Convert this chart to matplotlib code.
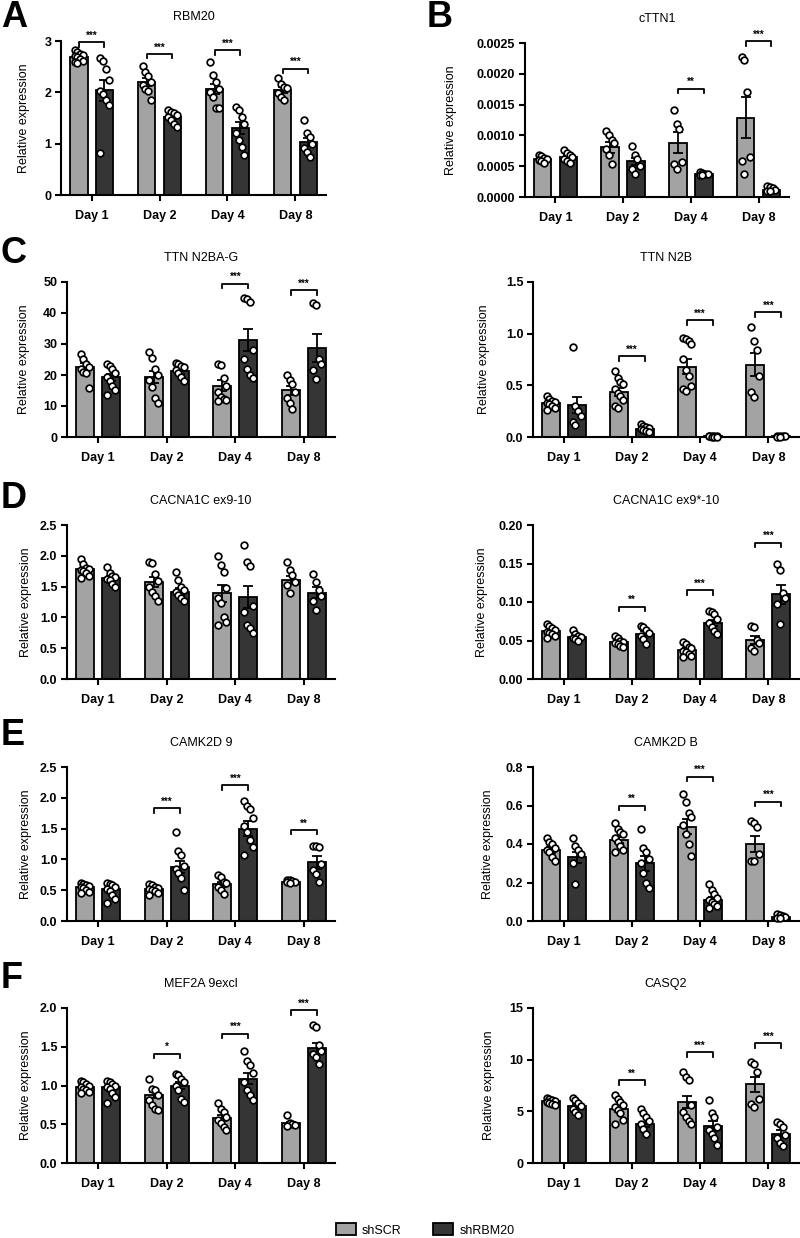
import matplotlib
matplotlib.use("Agg")
import matplotlib.pyplot as plt
from matplotlib.patches import Patch
import numpy as np

plt.rcParams["font.family"] = ["Liberation Sans", "DejaVu Sans"]

days = ["Day 1", "Day 2", "Day 4", "Day 8"]
groups = ["shSCR", "shRBM20"]

# RBM20
rbm20_scr = [2.68, 2.20, 2.07, 2.05]
rbm20_scr_sem = [0.03, 0.08, 0.10, 0.06]
rbm20_scr_pts = [[2.82, 2.78, 2.75, 2.72, 2.70, 2.68, 2.65, 2.62, 2.60, 2.58],
                 [2.51, 2.40, 2.31, 2.20, 2.14, 2.07, 2.03, 1.85],
                 [2.59, 2.33, 2.20, 2.07, 2.01, 1.90, 1.70, 1.70],
                 [2.27, 2.17, 2.10, 2.09, 1.98, 1.91, 1.85]]
rbm20_rbm = [2.04, 1.52, 1.30, 1.04]
rbm20_rbm_sem = [0.20, 0.04, 0.12, 0.08]
rbm20_rbm_pts = [[2.66, 2.62, 2.46, 2.25, 2.03, 1.96, 1.85, 1.75, 0.82],
                 [1.65, 1.62, 1.59, 1.56, 1.52, 1.47, 1.39, 1.33],
                 [1.72, 1.65, 1.52, 1.38, 1.20, 1.07, 0.94, 0.78],
                 [1.46, 1.20, 1.13, 1.00, 0.91, 0.84, 0.75]]
rbm20_sig = ["***", "***", "***", "***"]

# cTTN1
cttn1_scr = [0.00061, 0.00081, 0.00088, 0.00129]
cttn1_scr_sem = [0.00002, 0.00009, 0.00017, 0.00034]
cttn1_scr_pts = [[0.00068, 0.00066, 0.00064, 0.00062, 0.00060, 0.00058, 0.00056],
                 [0.00107, 0.00101, 0.00093, 0.00087, 0.00078, 0.00068, 0.00054],
                 [0.00142, 0.00119, 0.00111, 0.00057, 0.00053, 0.00046],
                 [0.00227, 0.00222, 0.00170, 0.00065, 0.00058, 0.00038]]
cttn1_rbm = [0.00065, 0.00058, 0.00037, 0.00012]
cttn1_rbm_sem = [0.00003, 0.00006, 0.00001, 0.00002]
cttn1_rbm_pts = [[0.00077, 0.00072, 0.00068, 0.00065, 0.00062, 0.00058, 0.00055],
                 [0.00082, 0.00068, 0.00061, 0.00051, 0.00046, 0.00038],
                 [0.00040, 0.00039, 0.00038, 0.00037, 0.00036, 0.00035],
                 [0.00018, 0.00017, 0.00015, 0.00012, 0.00010, 0.00009]]
cttn1_sig = [None, None, "**", "***"]

# TTN N2BA-G
n2bag_scr = [22.5, 19.3, 16.5, 15.0]
n2bag_scr_sem = [1.3, 2.0, 1.8, 1.5]
n2bag_scr_pts = [[26.9, 25.3, 23.7, 22.6, 22.0, 21.0, 20.5, 15.8],
                 [27.5, 25.5, 22.0, 20.0, 18.5, 16.0, 12.5, 11.0],
                 [23.7, 23.1, 19.0, 16.5, 14.5, 13.0, 12.4, 12.0, 11.5],
                 [20.0, 18.5, 17.0, 14.5, 12.5, 11.0, 9.0]]
n2bag_rbm = [19.2, 21.3, 31.2, 28.7]
n2bag_rbm_sem = [1.2, 0.9, 3.5, 4.5]
n2bag_rbm_pts = [[23.5, 23.0, 22.0, 20.5, 19.5, 18.0, 16.5, 15.0, 13.5],
                 [24.0, 23.5, 23.0, 22.5, 21.5, 20.5, 19.5, 18.0],
                 [44.8, 44.5, 43.5, 28.0, 25.0, 22.0, 20.0, 19.0],
                 [43.3, 42.5, 25.0, 23.6, 21.5, 18.8]]
n2bag_sig = [None, None, "***", "***"]

# TTN N2B
n2b_scr = [0.33, 0.435, 0.68, 0.70]
n2b_scr_sem = [0.02, 0.04, 0.07, 0.11]
n2b_scr_pts = [[0.40, 0.37, 0.35, 0.34, 0.33, 0.32, 0.30, 0.28, 0.26],
               [0.64, 0.57, 0.53, 0.51, 0.46, 0.43, 0.40, 0.36, 0.30, 0.28],
               [0.96, 0.95, 0.93, 0.90, 0.75, 0.65, 0.59, 0.49, 0.46, 0.45],
               [1.06, 0.93, 0.84, 0.59, 0.44, 0.39]]
n2b_rbm = [0.31, 0.08, 0.005, 0.005]
n2b_rbm_sem = [0.08, 0.01, 0.001, 0.001]
n2b_rbm_pts = [[0.87, 0.30, 0.25, 0.20, 0.15, 0.12],
               [0.13, 0.11, 0.10, 0.09, 0.08, 0.07, 0.06, 0.05],
               [0.008, 0.007, 0.006, 0.005, 0.005, 0.004, 0.004, 0.003],
               [0.008, 0.007, 0.006, 0.005, 0.004, 0.003]]
n2b_sig = [None, "***", "***", "***"]

# CACNA1C ex9-10
ex9_scr = [1.78, 1.57, 1.39, 1.61]
ex9_scr_sem = [0.03, 0.08, 0.14, 0.06]
ex9_scr_pts = [[1.95, 1.86, 1.81, 1.79, 1.77, 1.75, 1.72, 1.68, 1.64],
               [1.90, 1.88, 1.70, 1.59, 1.50, 1.42, 1.34, 1.26],
               [2.00, 1.85, 1.74, 1.47, 1.31, 1.23, 1.00, 0.93, 0.87],
               [1.90, 1.77, 1.69, 1.58, 1.53, 1.39]]
ex9_rbm = [1.64, 1.42, 1.33, 1.40]
ex9_rbm_sem = [0.04, 0.05, 0.18, 0.09]
ex9_rbm_pts = [[1.82, 1.72, 1.68, 1.66, 1.63, 1.61, 1.55, 1.50],
               [1.74, 1.61, 1.50, 1.45, 1.42, 1.37, 1.31, 1.26],
               [2.18, 1.90, 1.84, 1.18, 1.09, 0.88, 0.82, 0.75],
               [1.71, 1.58, 1.45, 1.34, 1.26, 1.12]]
ex9_sig = [None, None, None, None]

# CACNA1C ex9*-10
ex9s_scr = [0.062, 0.048, 0.038, 0.051]
ex9s_scr_sem = [0.002, 0.002, 0.002, 0.005]
ex9s_scr_pts = [[0.071, 0.069, 0.066, 0.063, 0.061, 0.060, 0.058, 0.056, 0.053],
                [0.056, 0.053, 0.050, 0.048, 0.047, 0.045, 0.043, 0.041],
                [0.048, 0.045, 0.042, 0.040, 0.037, 0.035, 0.032, 0.030, 0.028],
                [0.069, 0.067, 0.051, 0.047, 0.040, 0.036]]
ex9s_rbm = [0.055, 0.059, 0.073, 0.110]
ex9s_rbm_sem = [0.002, 0.003, 0.004, 0.012]
ex9s_rbm_pts = [[0.063, 0.058, 0.056, 0.055, 0.053, 0.052, 0.050],
                [0.069, 0.067, 0.063, 0.060, 0.056, 0.052, 0.046],
                [0.088, 0.087, 0.085, 0.078, 0.073, 0.068, 0.062, 0.058],
                [0.150, 0.142, 0.112, 0.105, 0.098, 0.072]]
ex9s_sig = [None, "**", "***", "***"]

# CAMK2D 9
camk9_scr = [0.55, 0.52, 0.60, 0.64]
camk9_scr_sem = [0.02, 0.02, 0.04, 0.01]
camk9_scr_pts = [[0.62, 0.60, 0.58, 0.57, 0.55, 0.53, 0.50, 0.47, 0.45],
                 [0.60, 0.58, 0.56, 0.54, 0.52, 0.50, 0.48, 0.45, 0.42],
                 [0.74, 0.72, 0.64, 0.61, 0.55, 0.50, 0.44],
                 [0.67, 0.66, 0.65, 0.64, 0.63, 0.62]]
camk9_rbm = [0.52, 0.88, 1.50, 0.95]
camk9_rbm_sem = [0.04, 0.10, 0.12, 0.10]
camk9_rbm_pts = [[0.62, 0.60, 0.58, 0.55, 0.52, 0.48, 0.42, 0.35, 0.30],
                 [1.44, 1.13, 1.07, 0.89, 0.85, 0.78, 0.69, 0.51],
                 [1.94, 1.87, 1.82, 1.68, 1.55, 1.45, 1.31, 1.20, 1.07],
                 [1.22, 1.21, 1.20, 0.93, 0.82, 0.77, 0.63]]
camk9_sig = [None, "***", "***", "**"]

# CAMK2D B
camkb_scr = [0.37, 0.42, 0.49, 0.40]
camkb_scr_sem = [0.015, 0.015, 0.04, 0.04]
camkb_scr_pts = [[0.43, 0.41, 0.40, 0.38, 0.37, 0.36, 0.33, 0.31],
                 [0.51, 0.48, 0.46, 0.45, 0.43, 0.41, 0.39, 0.37, 0.36],
                 [0.66, 0.62, 0.56, 0.54, 0.50, 0.45, 0.40, 0.34],
                 [0.52, 0.51, 0.49, 0.35, 0.31, 0.31]]
camkb_rbm = [0.33, 0.30, 0.11, 0.02]
camkb_rbm_sem = [0.03, 0.04, 0.015, 0.003]
camkb_rbm_pts = [[0.43, 0.39, 0.37, 0.35, 0.30, 0.19],
                 [0.48, 0.38, 0.36, 0.32, 0.30, 0.25, 0.20, 0.17],
                 [0.19, 0.16, 0.14, 0.12, 0.11, 0.10, 0.09, 0.08, 0.07],
                 [0.035, 0.030, 0.025, 0.020, 0.018, 0.015]]
camkb_sig = [None, "**", "***", "***"]

# MEF2A 9excl
mef2a_scr = [0.98, 0.875, 0.58, 0.51]
mef2a_scr_sem = [0.02, 0.04, 0.04, 0.02]
mef2a_scr_pts = [[1.06, 1.04, 1.02, 1.00, 0.98, 0.96, 0.94, 0.92, 0.90],
                 [1.09, 0.96, 0.94, 0.88, 0.81, 0.75, 0.70, 0.68],
                 [0.77, 0.70, 0.66, 0.59, 0.55, 0.51, 0.47, 0.42],
                 [0.62, 0.52, 0.50, 0.49, 0.48]]
mef2a_rbm = [0.98, 1.00, 1.09, 1.48]
mef2a_rbm_sem = [0.03, 0.04, 0.07, 0.07]
mef2a_rbm_pts = [[1.06, 1.04, 1.02, 1.00, 0.98, 0.95, 0.90, 0.85, 0.78],
                 [1.15, 1.13, 1.09, 1.04, 1.00, 0.94, 0.83, 0.79],
                 [1.44, 1.31, 1.26, 1.16, 1.05, 0.94, 0.88, 0.81],
                 [1.78, 1.76, 1.52, 1.44, 1.41, 1.37, 1.28]]
mef2a_sig = [None, "*", "***", "***"]

# CASQ2
casq2_scr = [6.0, 5.25, 5.9, 7.6]
casq2_scr_sem = [0.08, 0.30, 0.55, 0.70]
casq2_scr_pts = [[6.3, 6.2, 6.1, 6.0, 5.9, 5.8, 5.7, 5.6],
                 [6.6, 6.2, 5.9, 5.6, 5.4, 5.1, 4.8, 4.2, 3.8],
                 [8.8, 8.3, 8.0, 5.6, 4.9, 4.5, 4.1, 3.8],
                 [9.8, 9.6, 8.8, 6.2, 5.7, 5.4]]
casq2_rbm = [5.5, 3.75, 3.55, 2.85]
casq2_rbm_sem = [0.20, 0.25, 0.50, 0.30]
casq2_rbm_pts = [[6.3, 6.1, 5.8, 5.5, 5.2, 4.9, 4.6],
                 [5.2, 4.8, 4.5, 4.1, 3.8, 3.3, 2.8],
                 [6.1, 4.8, 4.5, 3.5, 3.2, 2.8, 2.4, 1.7],
                 [4.0, 3.8, 3.5, 2.7, 2.4, 1.9, 1.6]]
casq2_sig = [None, "**", "***", "***"]

W, H = 800, 1238
LIGHT = "#a3a3a3"
DARK = "#353535"

fig = plt.figure(figsize=(W / 100, H / 100), dpi=100)


def add_ax(x0, x1, y0, y1):
    return fig.add_axes([x0 / W, 1 - y1 / H, (x1 - x0) / W, (y1 - y0) / H])


def draw_panel(ax, title, scr, scr_sem, scr_pts, rbm, rbm_sem, rbm_pts, sig,
               ylim, yticks, fmt, sig_y, ylab_x):
    x = np.arange(len(days))
    off, w = 0.19, 0.26
    for sign, mean, sem, pts, col in [(-1, scr, scr_sem, scr_pts, LIGHT),
                                      (1, rbm, rbm_sem, rbm_pts, DARK)]:
        xs = x + sign * off
        ax.bar(xs, mean, width=w, color=col, edgecolor="black", linewidth=1.3, zorder=2)
        ax.errorbar(xs, mean, yerr=sem, fmt="none", ecolor="black", elinewidth=1.3,
                    capsize=3.5, capthick=1.3, zorder=3)
        for i, p in enumerate(pts):
            jit = (np.arange(len(p)) % 4 - 1.5) * 0.04
            ax.plot(xs[i] + jit, p, "o", ms=4.8, mfc="white", mec="black", mew=1.25,
                    zorder=4, clip_on=False)
    drop = 0.03 * ylim[1]
    k = 0
    for i, s in enumerate(sig):
        if s is None:
            continue
        h = sig_y[k]
        k += 1
        ax.plot([x[i] - off, x[i] - off, x[i] + off, x[i] + off],
                [h - drop, h, h, h - drop], color="black", lw=1.3, clip_on=False, zorder=5)
        ax.annotate(s, (x[i], h), xytext=(0, 1), textcoords="offset points",
                    ha="center", va="bottom", fontsize=7, fontweight="bold",
                    annotation_clip=False)
    ax.set_xlim(-0.45, 3.45)
    ax.set_ylim(*ylim)
    ax.set_yticks(yticks)
    ax.set_yticklabels([fmt.format(t) for t in yticks])
    ax.set_xticks(x)
    ax.set_xticklabels(days)
    for lab in ax.get_xticklabels() + ax.get_yticklabels():
        lab.set_fontweight("bold")
        lab.set_fontsize(9)
    for sp in ["top", "right"]:
        ax.spines[sp].set_visible(False)
    for sp in ["left", "bottom"]:
        ax.spines[sp].set_linewidth(1.5)
    ax.tick_params(width=1.5, length=4, direction="out", pad=3)
    ax.tick_params(axis="x", pad=7)
    ax.set_ylabel("Relative expression", fontsize=9)
    pos = ax.get_position()
    ax.yaxis.set_label_coords((ylab_x / W - pos.x0) / pos.width, 0.5)
    ax.text(0.5, 1 + 24 / (pos.height * H), title, transform=ax.transAxes,
            ha="center", va="center", fontsize=9)


LX0, LX1 = 67, 335
RX0, RX1 = 533, 799
rows = [(41, 195), (282, 437), (525, 679), (767, 921), (1008, 1163)]

ax = add_ax(61, 326, 41, 195)
draw_panel(ax, "RBM20", rbm20_scr, rbm20_scr_sem, rbm20_scr_pts, rbm20_rbm,
           rbm20_rbm_sem, rbm20_rbm_pts, rbm20_sig, (0, 3), [0, 1, 2, 3], "{:.0f}",
           [2.98, 2.75, 2.82, 2.46], 30)

ax = add_ax(525, 789, 43, 197)
draw_panel(ax, "cTTN1", cttn1_scr, cttn1_scr_sem, cttn1_scr_pts, cttn1_rbm,
           cttn1_rbm_sem, cttn1_rbm_pts, cttn1_sig, (0, 0.0025),
           [0, 0.0005, 0.001, 0.0015, 0.002, 0.0025], "{:.4f}", [0.00176, 0.00253], 457)

ax = add_ax(LX0, LX1, *rows[1])
draw_panel(ax, "TTN N2BA-G", n2bag_scr, n2bag_scr_sem, n2bag_scr_pts, n2bag_rbm,
           n2bag_rbm_sem, n2bag_rbm_pts, n2bag_sig, (0, 50), [0, 10, 20, 30, 40, 50],
           "{:.0f}", [49.5, 47.3], 30)

ax = add_ax(RX0, RX1, *rows[1])
draw_panel(ax, "TTN N2B", n2b_scr, n2b_scr_sem, n2b_scr_pts, n2b_rbm, n2b_rbm_sem,
           n2b_rbm_pts, n2b_sig, (0, 1.5), [0, 0.5, 1.0, 1.5], "{:.1f}",
           [0.78, 1.13, 1.21], 490)

ax = add_ax(LX0, LX1, *rows[2])
draw_panel(ax, "CACNA1C ex9-10", ex9_scr, ex9_scr_sem, ex9_scr_pts, ex9_rbm,
           ex9_rbm_sem, ex9_rbm_pts, ex9_sig, (0, 2.5), [0, 0.5, 1.0, 1.5, 2.0, 2.5],
           "{:.1f}", [], 32)

ax = add_ax(RX0, RX1, *rows[2])
draw_panel(ax, "CACNA1C ex9*-10", ex9s_scr, ex9s_scr_sem, ex9s_scr_pts, ex9s_rbm,
           ex9s_rbm_sem, ex9s_rbm_pts, ex9s_sig, (0, 0.20),
           [0, 0.05, 0.10, 0.15, 0.20], "{:.2f}", [0.094, 0.115, 0.177], 488)

ax = add_ax(LX0, LX1, *rows[3])
draw_panel(ax, "CAMK2D 9", camk9_scr, camk9_scr_sem, camk9_scr_pts, camk9_rbm,
           camk9_rbm_sem, camk9_rbm_pts, camk9_sig, (0, 2.5), [0, 0.5, 1.0, 1.5, 2.0, 2.5],
           "{:.1f}", [1.83, 2.20, 1.48], 32)

ax = add_ax(RX0, RX1, *rows[3])
draw_panel(ax, "CAMK2D B", camkb_scr, camkb_scr_sem, camkb_scr_pts, camkb_rbm,
           camkb_rbm_sem, camkb_rbm_pts, camkb_sig, (0, 0.8), [0, 0.2, 0.4, 0.6, 0.8],
           "{:.1f}", [0.60, 0.75, 0.62], 494)

ax = add_ax(LX0, LX1, *rows[4])
draw_panel(ax, "MEF2A 9excl", mef2a_scr, mef2a_scr_sem, mef2a_scr_pts, mef2a_rbm,
           mef2a_rbm_sem, mef2a_rbm_pts, mef2a_sig, (0, 2.0), [0, 0.5, 1.0, 1.5, 2.0],
           "{:.1f}", [1.41, 1.67, 1.97], 32)

ax = add_ax(RX0, RX1, *rows[4])
draw_panel(ax, "CASQ2", casq2_scr, casq2_scr_sem, casq2_scr_pts, casq2_rbm,
           casq2_rbm_sem, casq2_rbm_pts, casq2_sig, (0, 15), [0, 5, 10, 15],
           "{:.0f}", [8.0, 10.7, 11.6], 495)

# panel letters
for letter, xp, yp in [("A", 1, 0), ("B", 427, 0), ("C", 1, 236), ("D", 1, 481),
                       ("E", 1, 718), ("F", 1, 961)]:
    fig.text(xp / W, 1 - yp / H, letter, fontsize=26, fontweight="bold",
             ha="left", va="top")

handles = [Patch(facecolor=LIGHT, edgecolor="black", linewidth=1.3),
           Patch(facecolor=DARK, edgecolor="black", linewidth=1.3)]
fig.legend(handles, groups, loc="center", bbox_to_anchor=(425 / W, 1 - 1230 / H),
           ncol=2, frameon=False, fontsize=9, handlelength=1.6, handleheight=1.1,
           columnspacing=2.5, handletextpad=0.5)

fig.savefig("out.png", dpi=100)
